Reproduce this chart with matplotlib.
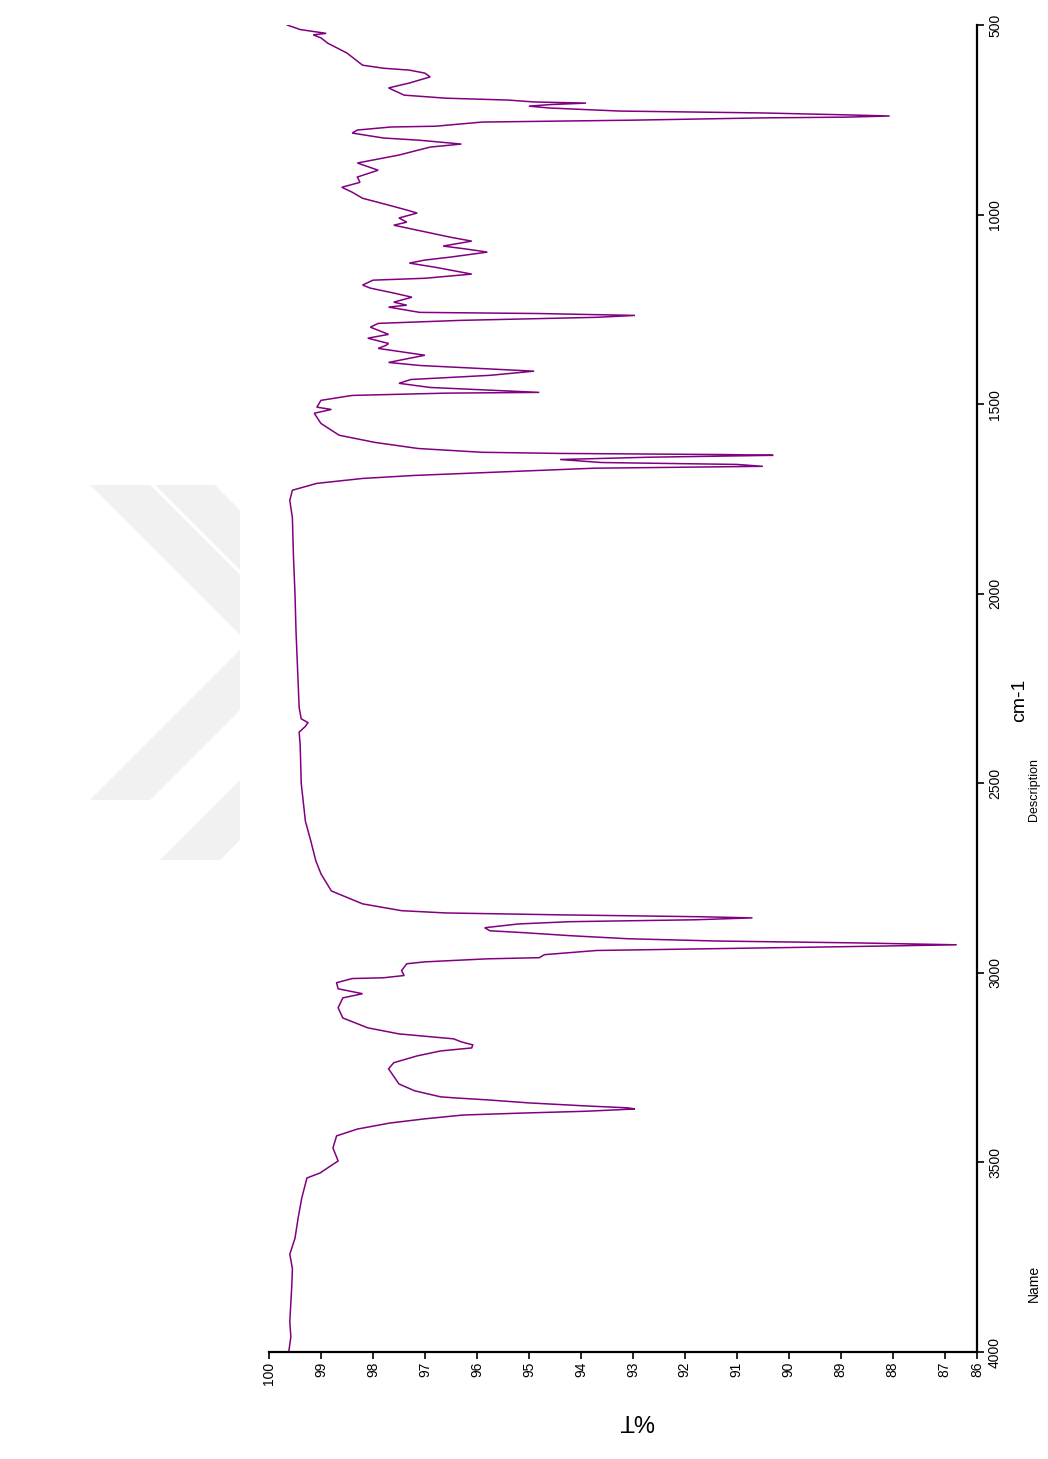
import matplotlib
matplotlib.use("Agg")
import matplotlib.pyplot as plt
from matplotlib.patches import Polygon

# IR transmission spectrum: wavenumber (cm-1) and %T
wavenumber = [
    500, 512, 518, 522, 526, 534, 548, 574, 606, 614, 619, 627, 637, 653, 666,
    685, 693, 698, 703, 706, 710, 714, 719, 727, 732, 737, 740, 743, 745, 751,
    756, 767, 769, 777, 785, 798, 804, 814, 822, 843, 864, 883, 901, 915, 928,
    941, 957, 975, 988, 996, 1009, 1020, 1028, 1041, 1060, 1070, 1083, 1091,
    1099, 1112, 1120, 1128, 1139, 1152, 1157, 1168, 1173, 1186, 1194, 1207,
    1218, 1231, 1239, 1244, 1258, 1261, 1266, 1271, 1279, 1284, 1287, 1297,
    1316, 1326, 1340, 1345, 1353, 1371, 1390, 1398, 1413, 1424, 1435, 1445,
    1456, 1469, 1471, 1477, 1490, 1508, 1514, 1524, 1551, 1582, 1601, 1617,
    1627, 1630, 1633, 1635, 1640, 1646, 1654, 1659, 1664, 1669, 1677, 1688,
    1696, 1709, 1727, 1754, 1800, 1900, 2000, 2100, 2200, 2300, 2330, 2340,
    2350, 2365, 2400, 2500, 2600, 2650, 2704, 2739, 2784, 2818, 2836, 2842,
    2847, 2852, 2855, 2860, 2865, 2871, 2881, 2889, 2894, 2902, 2910, 2916,
    2921, 2926, 2931, 2936, 2941, 2952, 2960, 2963, 2971, 2976, 2994, 3007,
    3013, 3015, 3026, 3042, 3055, 3066, 3092, 3119, 3145, 3161, 3174, 3182,
    3190, 3198, 3206, 3219, 3237, 3253, 3293, 3311, 3327, 3330, 3335, 3343,
    3351, 3356, 3359, 3365, 3370, 3375, 3385, 3396, 3412, 3430, 3462, 3496,
    3528, 3541, 3594, 3647, 3700, 3742, 3780, 3821, 3870, 3920, 3960, 4000,
]
transmittance = [
    99.65, 99.4, 99.1, 98.9, 99.15, 99.0, 98.87, 98.5, 98.2, 97.8, 97.3, 97.0,
    96.9, 97.3, 97.7, 97.4, 96.6, 95.4, 94.9, 93.9, 94.6, 95.0, 94.6, 93.25,
    90.5, 88.9, 88.06, 88.9, 90.5, 93.0, 95.9, 96.8, 97.65, 98.3, 98.4, 97.8,
    97.1, 96.3, 96.9, 97.5, 98.3, 97.9, 98.3, 98.25, 98.6, 98.4, 98.2, 97.7,
    97.35, 97.15, 97.5, 97.35, 97.6, 97.15, 96.5, 96.1, 96.65, 96.2, 95.8,
    96.5, 97.0, 97.3, 96.8, 96.3, 96.1, 97.0, 98.0, 98.2, 98.05, 97.6, 97.25,
    97.6, 97.35, 97.7, 97.1, 94.8, 92.96, 93.7, 96.3, 97.3, 97.9, 98.05, 97.7,
    98.1, 97.7, 97.75, 97.9, 97.0, 97.7, 97.1, 94.9, 95.75, 97.27, 97.5, 96.9,
    94.8, 96.6, 98.4, 99.0, 99.08, 98.8, 99.13, 99.0, 98.65, 97.96, 97.13,
    95.9, 94.4, 91.2, 90.3, 92.7, 94.4, 93.6, 91.0, 90.5, 93.75, 95.2, 97.2,
    98.2, 99.08, 99.55, 99.6, 99.55, 99.53, 99.5, 99.48, 99.45, 99.42, 99.38,
    99.25, 99.3, 99.42, 99.4, 99.38, 99.3, 99.2, 99.1, 99.0, 98.8, 98.2, 97.45,
    96.6, 94.4, 91.7, 90.7, 91.8, 94.2, 95.2, 95.85, 95.75, 95.1, 94.2, 93.1,
    91.4, 88.7, 86.77, 88.96, 91.35, 93.7, 94.7, 94.8, 95.8, 97.0, 97.35,
    97.45, 97.4, 97.8, 98.4, 98.7, 98.67, 98.2, 98.58, 98.67, 98.58, 98.1,
    97.5, 96.45, 96.3, 96.08, 96.1, 96.7, 97.15, 97.6, 97.7, 97.5, 97.2, 96.7,
    96.4, 95.8, 95.0, 93.9, 93.1, 92.96, 93.9, 95.17, 96.27, 97.0, 97.67, 98.3,
    98.7, 98.77, 98.67, 99.02, 99.27, 99.37, 99.44, 99.5, 99.6, 99.55, 99.56,
    99.58, 99.6, 99.58, 99.62,
]

t_ticks = [100, 99, 98, 97, 96, 95, 94, 93, 92, 91, 90, 89, 88, 87]
t_end = 86.38
wn_ticks = [500, 1000, 1500, 2000, 2500, 3000, 3500, 4000]

W, H = 1048, 1459
fig = plt.figure(figsize=(W / 100, H / 100), dpi=100)
fig.patch.set_facecolor("white")

# faint chevron watermark on the left
wm = "#f1f1f1"
chev1 = [(90, 485), (150, 485), (240, 575), (240, 710), (150, 800),
         (90, 800), (240, 650), (240, 635)]
chev2a = [(155, 485), (215, 485), (240, 510), (240, 570)]
chev2b = [(240, 780), (240, 840), (220, 860), (160, 860)]
for pts in (chev1, chev2a, chev2b):
    fig.patches.append(Polygon([(x / W, 1 - y / H) for x, y in pts],
                               closed=True, transform=fig.transFigure,
                               facecolor=wm, edgecolor="none", zorder=0))

left, right, top, bottom = 269, 977, 25, 1352
ax = fig.add_axes([left / W, 1 - bottom / H, (right - left) / W, (bottom - top) / H])
ax.patch.set_alpha(0)

ax.plot(transmittance, wavenumber, color="#800080", lw=1.1, solid_joinstyle="miter")

ax.set_xlim(100, t_end)
ax.set_ylim(4000, 500)

for s in ("top", "left"):
    ax.spines[s].set_visible(False)
for s in ("bottom", "right"):
    ax.spines[s].set_linewidth(1.6)
    ax.spines[s].set_color("black")

font = ["Liberation Sans Narrow", "Liberation Sans", "DejaVu Sans"]

ax.set_xticks(t_ticks + [t_end])
ax.set_xticklabels([str(int(v)) for v in t_ticks + [t_end]], rotation=90,
                   family=font, fontsize=10)
ax.tick_params(axis="x", direction="out", length=5, width=1.2, pad=2)

ax.yaxis.tick_right()
ax.set_yticks(wn_ticks)
ax.set_yticklabels([str(v) for v in wn_ticks], rotation=90, va="center",
                   family=font, fontsize=10)
ax.tick_params(axis="y", direction="out", length=5, width=1.2, pad=3)

fig.text(636 / W, 1 - 1420 / H, "%T", rotation=180, ha="center", va="center",
         family=font, fontsize=17)
fig.text(1020 / W, 1 - 700 / H, "cm-1", rotation=90, ha="center", va="center",
         family=font, fontsize=14)
fig.text(1034 / W, 1 - 790 / H, "Description", rotation=90, ha="center",
         va="center", family=font, fontsize=9)
fig.text(1034 / W, 1 - 1283 / H, "Name", rotation=90, ha="center",
         va="center", family=font, fontsize=10)

fig.savefig("out.png", dpi=100)
